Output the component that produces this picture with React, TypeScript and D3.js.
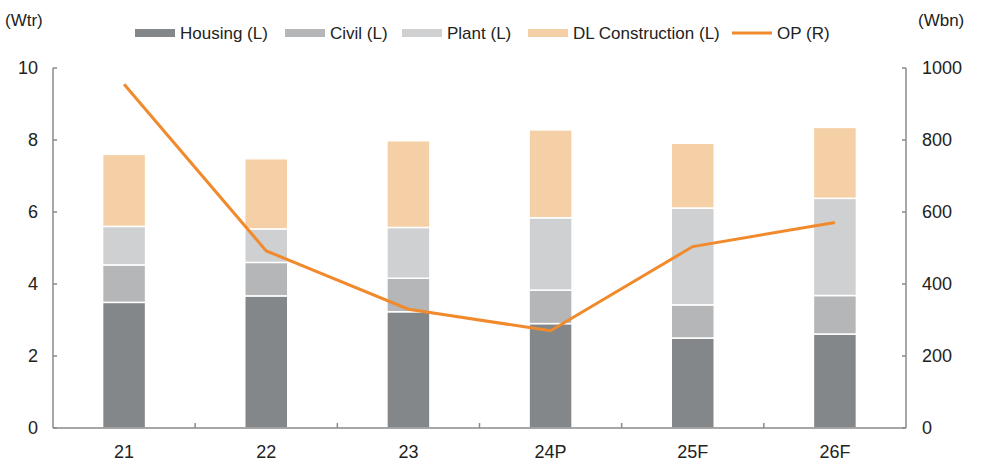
import React, { useEffect, useRef } from 'react';
import * as d3 from 'd3';

const categories = ['21', '22', '23', '24P', '25F', '26F'];
const housing = [3.49, 3.67, 3.23, 2.9, 2.5, 2.61];
const civil = [1.04, 0.93, 0.93, 0.93, 0.92, 1.07];
const plant = [1.07, 0.93, 1.41, 2.01, 2.69, 2.7];
const dlConstruction = [2.0, 1.95, 2.41, 2.44, 1.8, 1.97];
const op = [955, 492, 330, 270, 504, 571];
const leftTicks = [0, 2, 4, 6, 8, 10];
const rightTicks = [0, 200, 400, 600, 800, 1000];

const seriesNames = ['Housing (L)', 'Civil (L)', 'Plant (L)', 'DL Construction (L)'];
const seriesColors = ['#848789', '#b5b6b8', '#cfd0d2', '#f5cfa5'];
const lineColor = '#f08a2c';

const W = 983;
const H = 467;
const FONT = '"Liberation Sans Narrow", "Liberation Sans", Arial, sans-serif';

const App: React.FC = () => {
  const svgRef = useRef<SVGSVGElement>(null);

  useEffect(() => {
    if (!svgRef.current) return;
    const svg = d3.select(svgRef.current);
    svg.selectAll('*').remove();

    const left = 53, right = 906, top = 68, bottom = 428;

    const x = d3.scaleBand<string>().domain(categories).range([left, right]);
    const yL = d3.scaleLinear().domain([0, 10]).range([bottom, top]);
    const yR = d3.scaleLinear().domain([0, 1000]).range([bottom, top]);

    const rows = categories.map((c, i) => ({
      cat: c,
      s0: housing[i],
      s1: civil[i],
      s2: plant[i],
      s3: dlConstruction[i],
    }));
    const stacked = d3.stack<any>().keys(['s0', 's1', 's2', 's3'])(rows);

    const barW = 43;
    const g = svg.append('g');

    stacked.forEach((layer, li) => {
      g.selectAll(null)
        .data(layer)
        .enter()
        .append('rect')
        .attr('x', (d: any) => x(d.data.cat)! + x.bandwidth() / 2 - barW / 2)
        .attr('y', d => yL(d[1]))
        .attr('width', barW)
        .attr('height', d => yL(d[0]) - yL(d[1]))
        .attr('fill', seriesColors[li])
        .attr('stroke', '#fff')
        .attr('stroke-width', 1.5);
    });

    const axisColor = '#8a8a8a';

    // left axis
    g.append('line')
      .attr('x1', left).attr('x2', left).attr('y1', top).attr('y2', bottom)
      .attr('stroke', axisColor).attr('stroke-width', 1.5);
    leftTicks.forEach(t => {
      g.append('line')
        .attr('x1', left).attr('x2', left + 4).attr('y1', yL(t)).attr('y2', yL(t))
        .attr('stroke', axisColor).attr('stroke-width', 1.5);
      g.append('text')
        .attr('x', 38).attr('y', yL(t)).attr('dy', '0.35em')
        .attr('text-anchor', 'end')
        .attr('font-size', 18).attr('fill', '#222')
        .style('font-family', FONT)
        .text(t);
    });

    // right axis
    g.append('line')
      .attr('x1', right).attr('x2', right).attr('y1', top).attr('y2', bottom)
      .attr('stroke', axisColor).attr('stroke-width', 1.5);
    rightTicks.forEach(t => {
      g.append('line')
        .attr('x1', right - 4).attr('x2', right).attr('y1', yR(t)).attr('y2', yR(t))
        .attr('stroke', axisColor).attr('stroke-width', 1.5);
      g.append('text')
        .attr('x', 922).attr('y', yR(t)).attr('dy', '0.35em')
        .attr('text-anchor', 'start')
        .attr('font-size', 18).attr('fill', '#222')
        .style('font-family', FONT)
        .text(t);
    });

    // bottom axis
    g.append('line')
      .attr('x1', left).attr('x2', right).attr('y1', bottom).attr('y2', bottom)
      .attr('stroke', axisColor).attr('stroke-width', 1.5);
    categories.forEach((c, i) => {
      if (i > 0) {
        const tx = x(c)!;
        g.append('line')
          .attr('x1', tx).attr('x2', tx).attr('y1', bottom).attr('y2', bottom - 5)
          .attr('stroke', axisColor).attr('stroke-width', 1.5);
      }
      g.append('text')
        .attr('x', x(c)! + x.bandwidth() / 2).attr('y', 452).attr('dy', '0.35em')
        .attr('text-anchor', 'middle')
        .attr('font-size', 18).attr('fill', '#222')
        .style('font-family', FONT)
        .text(c);
    });

    // OP line
    const line = d3.line<number>()
      .x((_, i) => x(categories[i])! + x.bandwidth() / 2)
      .y(d => yR(d));
    g.append('path')
      .datum(op)
      .attr('d', line)
      .attr('fill', 'none')
      .attr('stroke', lineColor)
      .attr('stroke-width', 3);

    // axis titles
    g.append('text').attr('x', 5).attr('y', 20).attr('dy', '0.35em')
      .attr('font-size', 17).attr('fill', '#222').style('font-family', FONT).text('(Wtr)');
    g.append('text').attr('x', 918).attr('y', 20).attr('dy', '0.35em')
      .attr('font-size', 17).attr('fill', '#222').style('font-family', FONT).text('(Wbn)');

    // legend
    const legendX = [135, 285, 402, 528];
    seriesNames.forEach((name, i) => {
      g.append('rect')
        .attr('x', legendX[i]).attr('y', 29).attr('width', 40).attr('height', 8)
        .attr('fill', seriesColors[i]);
      g.append('text')
        .attr('x', legendX[i] + 45).attr('y', 33).attr('dy', '0.35em')
        .attr('font-size', 17).attr('fill', '#222').style('font-family', FONT)
        .text(name);
    });
    g.append('line')
      .attr('x1', 732).attr('x2', 772).attr('y1', 33).attr('y2', 33)
      .attr('stroke', lineColor).attr('stroke-width', 3);
    g.append('text')
      .attr('x', 777).attr('y', 33).attr('dy', '0.35em')
      .attr('font-size', 17).attr('fill', '#222').style('font-family', FONT)
      .text('OP (R)');
  }, []);

  return (
    <svg
      ref={svgRef}
      width={W}
      height={H}
      style={{ position: 'absolute', left: 0, top: 0, background: '#fff' }}
    />
  );
};

export default App;
